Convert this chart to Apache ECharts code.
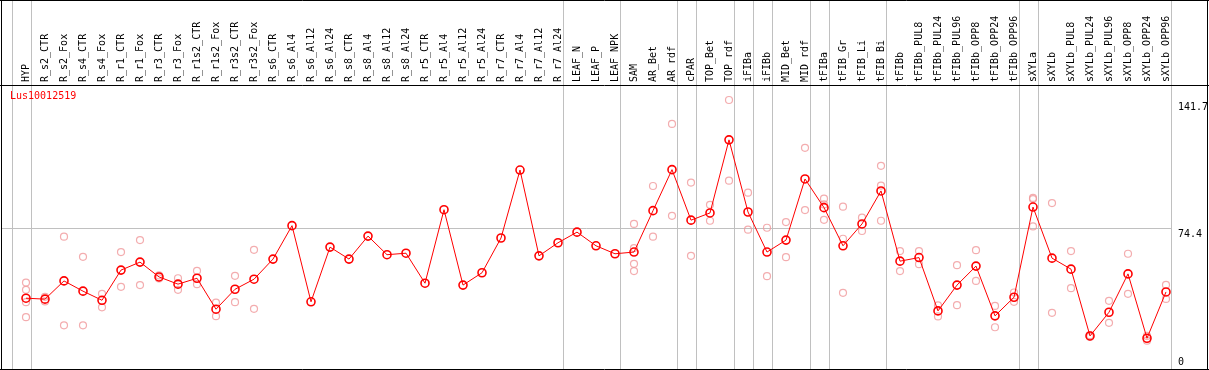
<!DOCTYPE html>
<html>
<head>
<meta charset="utf-8">
<style>
  html, body { margin: 0; padding: 0; background: #fff; }
  #chart { width: 1209px; height: 370px; }
</style>
<script src="https://cdn.jsdelivr.net/npm/echarts@6/dist/echarts.min.js"></script>
</head>
<body>
<div id="chart"></div>
<script>
const geneName = 'Lus10012519';

const categories = [
  'HYP', 'R_s2_CTR', 'R_s2_Fox', 'R_s4_CTR', 'R_s4_Fox', 'R_r1_CTR', 'R_r1_Fox', 'R_r3_CTR', 'R_r3_Fox',
  'R_r1s2_CTR', 'R_r1s2_Fox', 'R_r3s2_CTR', 'R_r3s2_Fox', 'R_s6_CTR', 'R_s6_Al4', 'R_s6_Al12', 'R_s6_Al24',
  'R_s8_CTR', 'R_s8_Al4', 'R_s8_Al12', 'R_s8_Al24', 'R_r5_CTR', 'R_r5_Al4', 'R_r5_Al12', 'R_r5_Al24',
  'R_r7_CTR', 'R_r7_Al4', 'R_r7_Al12', 'R_r7_Al24', 'LEAF_N', 'LEAF_P', 'LEAF_NPK', 'SAM', 'AR_Bet', 'AR_rdf',
  'cPAR', 'TOP_Bet', 'TOP_rdf', 'iFIBa', 'iFIBb', 'MID_Bet', 'MID_rdf', 'tFIBa', 'tFIB_Gr', 'tFIB_Li', 'tFIB_Bi',
  'tFIBb', 'tFIBb_PUL8', 'tFIBb_PUL24', 'tFIBb_PUL96', 'tFIBb_OPP8', 'tFIBb_OPP24', 'tFIBb_OPP96',
  'sXYLa', 'sXYLb', 'sXYLb_PUL8', 'sXYLb_PUL24', 'sXYLb_PUL96', 'sXYLb_OPP8', 'sXYLb_OPP24', 'sXYLb_OPP96'
];

const meanValues = [
  37.3, 36.8, 46.4, 41.0, 36.2, 52.1, 56.3, 48.5, 44.7,
  47.8, 31.5, 42.0, 47.3, 57.9, 75.5, 35.4, 64.2,
  57.9, 70.0, 60.2, 61.0, 45.2, 83.9, 44.2, 50.7,
  69.0, 104.8, 59.6, 66.5, 72.1, 64.9, 60.7, 61.6, 83.4, 105.0,
  78.4, 82.2, 120.7, 82.7, 61.6, 67.9, 100.1, 85.0, 64.9, 76.4, 93.8,
  56.8, 58.7, 30.6, 44.2, 54.2, 28.0, 37.8,
  85.3, 58.4, 52.6, 17.4, 29.9, 50.1, 16.2, 40.6
];

const replicateValues = [
  [45.5, 41.7, 35.2, 27.3], [38.0, 35.6], [69.7, 23.0], [59.1, 23.0], [39.6, 32.5], [61.6, 43.3], [67.9, 44.2], [49.3, 47.7], [47.8, 41.7],
  [51.7, 44.7], [35.0, 27.8], [49.1, 35.2], [62.8, 31.7], [], [], [], [],
  [], [], [], [], [], [], [], [],
  [], [], [], [], [], [], [], [76.4, 63.7, 55.4, 51.6], [96.4, 69.7], [129.1, 80.7],
  [98.2, 59.6], [86.5, 78.1], [141.7, 99.2], [92.9, 73.4], [74.4, 48.9], [77.4, 58.9], [116.5, 83.7], [89.7, 86.7, 78.6], [85.5, 68.6, 40.1], [79.7, 72.7], [107.0, 96.6, 78.1],
  [62.1, 51.6], [62.1, 55.2], [33.5, 27.7], [54.7, 33.6], [62.6, 46.4], [33.2, 22.0], [40.3, 35.4],
  [90.1, 89.5, 75.1], [87.4, 29.6], [62.1, 42.6], [17.8, 16.9], [35.9, 24.3], [60.7, 39.6], [17.4, 14.9], [44.3, 36.9]
];

const yTickLabels = [0, 74.4, 141.7];
const yGridValues = [74.4];
// group separators drawn after these category indices (-1 = before the first)
const groupEnds = [-1, 0, 28, 31, 34, 35, 37, 38, 39, 41, 42, 45, 52, 53, 60];

const replicateData = [];
replicateValues.forEach((reps, i) => reps.forEach(v => replicateData.push([categories[i], v])));

const FONT = 'DejaVu Sans Mono';

const chart = echarts.init(document.getElementById('chart'), null, { renderer: 'canvas', devicePixelRatio: 1 });

chart.setOption({
  animation: false,
  backgroundColor: '#ffffff',
  grid: { left: 16.5, width: 1159, top: 85, height: 284, containLabel: false },
  xAxis: {
    type: 'category',
    data: categories,
    position: 'top',
    boundaryGap: true,
    axisLine: { show: false },
    axisTick: { show: false },
    splitLine: { show: false },
    axisLabel: {
      interval: 0, rotate: 90, margin: 3,
      fontFamily: FONT, fontSize: 10, color: '#000000'
    }
  },
  yAxis: { type: 'value', min: 0, max: 149.6, show: false, splitLine: { show: false } },
  series: [
    {
      type: 'scatter',
      data: replicateData,
      symbol: 'circle',
      symbolSize: 7,
      itemStyle: { color: 'rgba(255,255,255,0)', borderColor: '#f0999b', borderWidth: 1.2 },
      z: 2,
      silent: true
    },
    {
      type: 'line',
      data: meanValues,
      symbol: 'circle',
      symbolSize: 8,
      showSymbol: true,
      showAllSymbol: true,
      lineStyle: { color: '#ff0000', width: 1 },
      itemStyle: { color: 'rgba(255,255,255,0)', borderColor: '#ff0000', borderWidth: 1.6 },
      z: 3,
      silent: true
    }
  ]
});

// decorations placed via the chart's own scales
const px = c => chart.convertToPixel({ xAxisIndex: 0 }, c);
const py = v => chart.convertToPixel({ yAxisIndex: 0 }, v);
const band = px(categories[1]) - px(categories[0]);
const W = 1209, H = 370;
const graphics = [];
const grey = '#c0c0c0';

groupEnds.forEach(i => {
  const x = Math.round(px(categories[0]) + band * (i + 0.25)) + 0.5;
  graphics.push({ type: 'line', shape: { x1: x, y1: 0, x2: x, y2: H }, style: { stroke: grey, lineWidth: 1 }, z: 1, silent: true });
});
const rightSep = Math.round(px(categories[0]) + band * (categories.length - 1 + 0.25)) + 0.5;
yGridValues.forEach(v => {
  const y = Math.round(py(v)) + 0.5;
  graphics.push({ type: 'line', shape: { x1: 1, y1: y, x2: rightSep, y2: y }, style: { stroke: grey, lineWidth: 1 }, z: 1, silent: true });
});
// frame and header divider
graphics.push({ type: 'line', shape: { x1: 0, y1: 0.5, x2: W, y2: 0.5 }, style: { stroke: '#000', lineWidth: 1 }, z: 5, silent: true });
graphics.push({ type: 'line', shape: { x1: 1.5, y1: 0, x2: 1.5, y2: H }, style: { stroke: '#000', lineWidth: 1 }, z: 5, silent: true });
graphics.push({ type: 'line', shape: { x1: 1207.5, y1: 0, x2: 1207.5, y2: H }, style: { stroke: '#000', lineWidth: 1 }, z: 5, silent: true });
graphics.push({ type: 'line', shape: { x1: 0, y1: 369.5, x2: W, y2: 369.5 }, style: { stroke: '#000', lineWidth: 1 }, z: 5, silent: true });
graphics.push({ type: 'line', shape: { x1: 0, y1: 85.5, x2: W, y2: 85.5 }, style: { stroke: '#000', lineWidth: 1 }, z: 5, silent: true });
// y tick labels
yTickLabels.forEach(v => {
  const y = py(v);
  const atBottom = v === 0;
  graphics.push({
    type: 'text', x: 1178, y: atBottom ? y - 2 : y + 2, z: 6, silent: true,
    style: { text: String(v), fill: '#000', font: '10px ' + FONT, align: 'left', verticalAlign: atBottom ? 'bottom' : 'top' }
  });
});
// gene name
graphics.push({
  type: 'text', x: 10, y: 91, z: 6, silent: true,
  style: { text: geneName, fill: '#ff0000', font: '10px ' + FONT, align: 'left', verticalAlign: 'top' }
});

chart.setOption({ graphic: graphics });
</script>
</body>
</html>
